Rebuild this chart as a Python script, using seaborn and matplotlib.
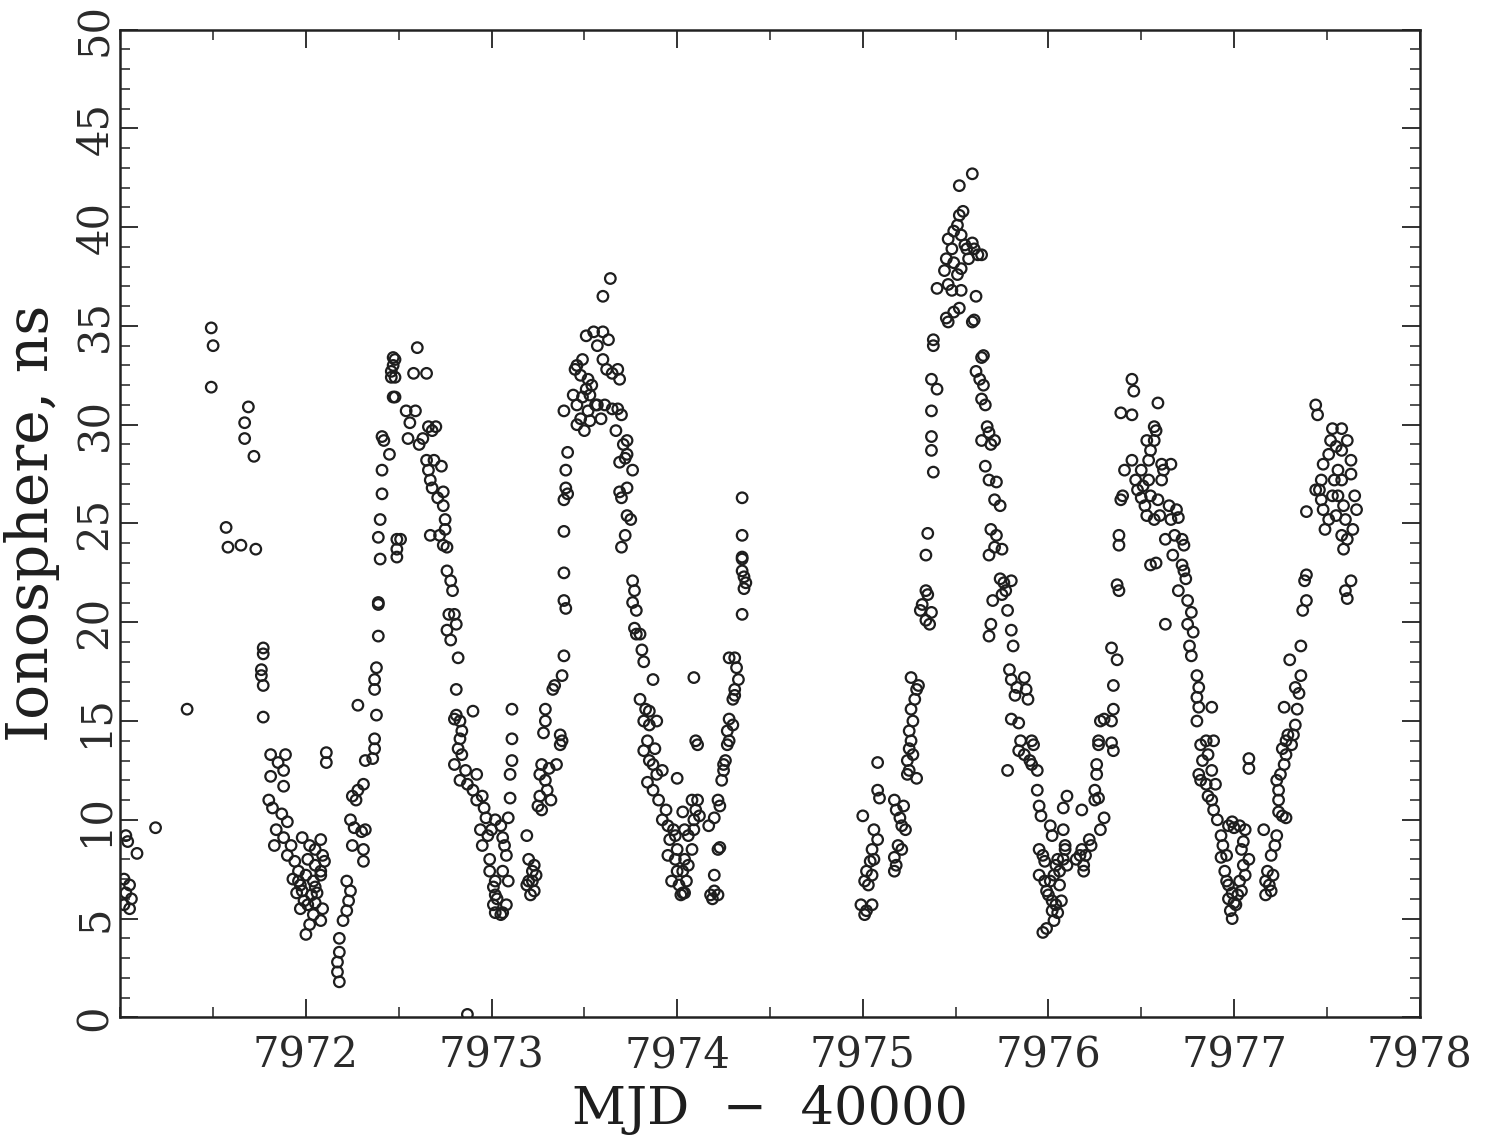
import pandas as pd
import matplotlib.pyplot as plt
import seaborn as sns
from matplotlib.ticker import MultipleLocator

# ionosphere delay readings, (MJD - 40000, ns), grouped by day
day_7971 = [
    (7971.03, 9.2), (7971.04, 8.9), (7971.02, 7.0), (7971.05, 6.7), (7971.03, 6.3),
    (7971.06, 6.0), (7971.02, 5.7), (7971.05, 5.5), (7971.09, 8.3), (7971.19, 9.6),
    (7971.36, 15.6), (7971.49, 34.9), (7971.50, 34.0), (7971.49, 31.9),
    (7971.57, 24.8), (7971.58, 23.8), (7971.65, 23.9), (7971.73, 23.7),
    (7971.69, 30.9), (7971.67, 30.1), (7971.67, 29.3), (7971.72, 28.4),
    (7971.77, 18.7), (7971.77, 18.4), (7971.76, 17.6), (7971.76, 17.3), (7971.77, 16.8),
    (7971.77, 15.2), (7971.81, 13.3), (7971.89, 13.3), (7971.85, 12.9), (7971.88, 12.5),
    (7971.81, 12.2), (7971.88, 11.7), (7971.80, 11.0), (7971.82, 10.6), (7971.87, 10.3),
    (7971.90, 9.9), (7971.84, 9.5), (7971.88, 9.1), (7971.83, 8.7), (7971.92, 8.7),
    (7971.90, 8.2), (7971.94, 7.9), (7971.96, 7.4), (7971.93, 7.0), (7971.97, 6.7),
    (7971.95, 6.3), (7971.99, 5.9), (7971.97, 5.5), (7972.00, 4.2),
]

day_7972 = [
    (7971.98, 9.1), (7972.02, 8.7), (7972.05, 8.5), (7972.08, 9.0), (7972.01, 8.0),
    (7972.05, 7.7), (7972.09, 8.2), (7971.96, 6.9), (7972.00, 7.2), (7972.04, 6.9),
    (7972.08, 7.2), (7971.98, 6.4), (7972.03, 6.2), (7972.06, 6.3), (7972.01, 5.7),
    (7972.05, 5.8), (7972.09, 5.5), (7972.04, 5.2), (7972.08, 4.9), (7972.02, 4.7),
    (7972.08, 7.4), (7972.10, 7.9), (7972.05, 6.6), (7972.11, 13.4), (7972.11, 12.9),
    (7972.18, 1.8), (7972.17, 2.3), (7972.17, 2.8), (7972.18, 3.3), (7972.18, 4.0),
    (7972.20, 4.9), (7972.22, 5.4), (7972.23, 5.9), (7972.24, 6.4), (7972.22, 6.9),
    (7972.25, 8.7), (7972.26, 9.6), (7972.24, 10.0), (7972.27, 11.0), (7972.28, 11.5),
    (7972.25, 11.2), (7972.31, 11.8), (7972.28, 15.8), (7972.32, 13.0), (7972.31, 8.5),
    (7972.31, 7.9), (7972.30, 9.4), (7972.32, 9.5),
    (7972.36, 13.1), (7972.37, 13.6), (7972.37, 14.1), (7972.38, 15.3), (7972.37, 16.6),
    (7972.37, 17.1), (7972.38, 17.7), (7972.39, 19.3), (7972.39, 20.9), (7972.39, 21.0),
    (7972.40, 23.2), (7972.39, 24.3), (7972.40, 25.2), (7972.41, 26.5), (7972.41, 27.7),
    (7972.42, 29.2), (7972.41, 29.4), (7972.45, 28.5),
    (7972.47, 33.4), (7972.48, 33.3), (7972.47, 33.0), (7972.46, 32.7), (7972.48, 32.4),
    (7972.46, 32.4), (7972.48, 31.4), (7972.47, 31.4), (7972.49, 24.2), (7972.49, 23.7),
    (7972.49, 23.3), (7972.51, 24.2),
    (7972.54, 30.7), (7972.55, 29.3), (7972.56, 30.1), (7972.59, 30.7), (7972.60, 33.9),
    (7972.58, 32.6), (7972.65, 32.6), (7972.63, 29.3), (7972.61, 29.0), (7972.65, 28.2),
    (7972.66, 29.9), (7972.68, 29.7), (7972.70, 29.9), (7972.66, 27.7), (7972.67, 27.2),
    (7972.68, 26.8), (7972.71, 26.3), (7972.67, 24.4), (7972.72, 24.4), (7972.69, 28.2),
    (7972.73, 27.9), (7972.74, 26.6), (7972.74, 25.9), (7972.75, 25.2), (7972.75, 24.7),
    (7972.74, 23.9), (7972.76, 23.8), (7972.76, 22.6), (7972.78, 22.1), (7972.79, 21.6),
    (7972.77, 20.4), (7972.80, 20.4), (7972.76, 19.6), (7972.78, 19.1), (7972.81, 19.9),
    (7972.82, 18.2), (7972.81, 16.6), (7972.81, 15.3), (7972.83, 15.0), (7972.80, 15.1),
    (7972.84, 14.5), (7972.83, 14.1), (7972.82, 13.6), (7972.84, 13.3), (7972.80, 12.8),
    (7972.86, 12.5), (7972.83, 12.0), (7972.90, 15.5), (7972.87, 11.8), (7972.90, 11.5),
    (7972.92, 12.3), (7972.95, 11.2), (7972.92, 11.0), (7972.96, 10.6), (7972.97, 10.1),
    (7972.94, 9.5), (7972.98, 9.2), (7972.95, 8.7), (7973.00, 9.5), (7972.99, 8.0),
    (7972.99, 7.4), (7973.02, 6.9), (7973.01, 6.6), (7973.02, 6.2), (7973.01, 5.7),
    (7973.02, 5.3), (7973.05, 5.2), (7972.87, 0.15),
]

day_7973 = [
    (7973.02, 10.0), (7973.05, 9.7), (7973.06, 9.1), (7973.07, 8.7), (7973.08, 8.2),
    (7973.09, 10.1), (7973.10, 11.1), (7973.10, 12.3), (7973.11, 13.0), (7973.11, 14.1),
    (7973.11, 15.6), (7973.06, 7.4), (7973.09, 6.9), (7973.03, 6.0), (7973.06, 5.3),
    (7973.08, 5.7),
    (7973.19, 9.2), (7973.20, 8.0), (7973.22, 7.4), (7973.22, 6.9), (7973.19, 6.7),
    (7973.23, 6.4), (7973.21, 6.2), (7973.24, 7.2), (7973.23, 7.7), (7973.20, 6.9),
    (7973.25, 10.7), (7973.27, 10.5), (7973.26, 11.2), (7973.29, 12.0), (7973.26, 12.3),
    (7973.30, 11.5), (7973.27, 12.8), (7973.31, 12.6), (7973.29, 15.0), (7973.29, 15.6),
    (7973.28, 14.4), (7973.32, 11.0), (7973.33, 16.6), (7973.34, 16.8), (7973.35, 12.8),
    (7973.37, 13.8), (7973.38, 14.0), (7973.37, 14.3), (7973.39, 18.3), (7973.38, 17.3),
    (7973.39, 21.1), (7973.40, 20.7), (7973.39, 22.5), (7973.39, 24.6), (7973.39, 26.2),
    (7973.41, 26.5), (7973.40, 26.8), (7973.40, 27.7), (7973.41, 28.6), (7973.39, 30.7),
    (7973.44, 31.5), (7973.45, 32.8), (7973.46, 33.0), (7973.49, 33.3), (7973.48, 32.5),
    (7973.52, 32.3), (7973.54, 32.0), (7973.51, 31.8), (7973.53, 31.5), (7973.49, 31.4),
    (7973.46, 31.0), (7973.48, 30.3), (7973.52, 30.7), (7973.56, 31.0), (7973.53, 30.2),
    (7973.50, 29.7), (7973.46, 30.0), (7973.55, 34.7), (7973.60, 34.7), (7973.63, 34.3),
    (7973.51, 34.5), (7973.57, 34.0), (7973.60, 33.3), (7973.62, 32.8), (7973.65, 32.6),
    (7973.68, 32.8), (7973.69, 32.3), (7973.60, 36.5), (7973.64, 37.4), (7973.57, 31.0),
    (7973.61, 31.0), (7973.65, 30.8), (7973.59, 30.3), (7973.68, 30.8), (7973.70, 30.5),
    (7973.71, 29.0), (7973.73, 29.2), (7973.67, 29.7), (7973.69, 28.1), (7973.72, 28.3),
    (7973.73, 28.5), (7973.69, 26.6), (7973.70, 26.3), (7973.73, 26.8), (7973.72, 24.4),
    (7973.70, 23.8), (7973.73, 25.4), (7973.75, 25.2), (7973.76, 27.7),
    (7973.76, 22.1), (7973.77, 21.6), (7973.76, 21.0), (7973.78, 20.6), (7973.77, 19.7),
    (7973.80, 19.4), (7973.78, 19.4), (7973.81, 18.6), (7973.82, 18.0), (7973.80, 16.1),
    (7973.83, 15.6), (7973.85, 15.5), (7973.85, 14.8), (7973.82, 15.0), (7973.84, 14.0),
    (7973.82, 13.5), (7973.85, 13.0), (7973.87, 12.8), (7973.88, 13.6), (7973.89, 15.0),
    (7973.87, 17.1), (7973.84, 11.9), (7973.87, 11.5), (7973.89, 12.3), (7973.92, 12.5),
    (7973.90, 11.0), (7973.94, 10.5), (7973.92, 10.0), (7973.95, 9.7), (7973.96, 9.0),
    (7973.98, 9.5), (7973.99, 9.2), (7973.95, 8.2), (7973.99, 8.0), (7974.00, 7.4),
    (7973.97, 6.9), (7974.01, 6.7), (7974.03, 6.3), (7974.04, 8.0), (7974.00, 8.5),
    (7974.00, 12.1), (7974.03, 10.4), (7974.04, 9.5),
]

day_7974 = [
    (7974.02, 6.2), (7974.04, 6.3), (7974.05, 6.9), (7974.03, 7.4), (7974.06, 7.7),
    (7974.08, 8.5), (7974.06, 9.2), (7974.09, 10.0), (7974.10, 10.5), (7974.08, 11.0),
    (7974.09, 17.2), (7974.11, 13.8), (7974.10, 14.0), (7974.11, 11.0), (7974.12, 10.2),
    (7974.09, 9.5),
    (7974.17, 9.7), (7974.20, 10.1), (7974.18, 6.2), (7974.19, 6.0), (7974.20, 6.4),
    (7974.22, 6.2), (7974.20, 7.2), (7974.22, 8.5), (7974.23, 8.6), (7974.23, 10.7),
    (7974.22, 11.0),
    (7974.24, 12.0), (7974.25, 12.5), (7974.25, 12.8), (7974.26, 13.0), (7974.27, 13.8),
    (7974.28, 14.0), (7974.27, 14.5), (7974.30, 14.8), (7974.28, 15.1), (7974.30, 16.1),
    (7974.31, 16.3), (7974.31, 16.6), (7974.32, 17.7), (7974.31, 18.2), (7974.28, 18.2),
    (7974.33, 17.1),
    (7974.35, 26.3), (7974.35, 24.4), (7974.35, 23.2), (7974.35, 22.6), (7974.36, 22.3),
    (7974.37, 22.0), (7974.36, 21.7), (7974.35, 20.4), (7974.35, 23.3),
]

day_7975 = [
    (7975.00, 10.2), (7974.99, 5.7), (7975.02, 5.4), (7975.05, 5.7), (7975.01, 5.2),
    (7975.01, 6.9), (7975.03, 6.7), (7975.02, 7.4), (7975.05, 7.2), (7975.04, 7.9),
    (7975.06, 8.0), (7975.05, 8.5), (7975.08, 9.0), (7975.06, 9.5), (7975.09, 11.1),
    (7975.08, 11.5), (7975.08, 12.9),
    (7975.17, 8.1), (7975.18, 7.7), (7975.19, 8.7), (7975.17, 7.4), (7975.21, 8.5),
    (7975.17, 11.0), (7975.18, 10.5), (7975.20, 10.1), (7975.21, 9.7), (7975.22, 10.7),
    (7975.23, 9.5), (7975.24, 12.3), (7975.25, 12.5), (7975.24, 13.0), (7975.25, 13.6),
    (7975.26, 14.0), (7975.25, 14.5), (7975.27, 15.0), (7975.26, 15.6), (7975.28, 16.1),
    (7975.29, 16.6), (7975.26, 17.2), (7975.30, 16.8), (7975.27, 13.3), (7975.29, 12.1),
    (7975.31, 20.6), (7975.32, 20.9), (7975.34, 20.1), (7975.35, 21.4), (7975.34, 21.6),
    (7975.36, 19.9), (7975.37, 20.5), (7975.34, 23.4), (7975.35, 24.5), (7975.38, 27.6),
    (7975.37, 28.7), (7975.37, 29.4), (7975.37, 30.7), (7975.37, 32.3), (7975.38, 34.0),
    (7975.38, 34.3), (7975.40, 31.8),
    (7975.40, 36.9), (7975.45, 35.4), (7975.46, 35.2), (7975.46, 37.1), (7975.44, 37.8),
    (7975.45, 38.4), (7975.48, 38.9), (7975.46, 39.4), (7975.49, 39.8), (7975.51, 40.1),
    (7975.52, 40.6), (7975.54, 40.8), (7975.52, 42.1), (7975.59, 42.7), (7975.53, 39.6),
    (7975.55, 39.1), (7975.49, 38.2), (7975.51, 37.6), (7975.48, 36.8), (7975.53, 37.9),
    (7975.56, 38.9), (7975.57, 38.4), (7975.59, 39.2), (7975.60, 38.9), (7975.62, 38.6),
    (7975.52, 35.9), (7975.53, 36.8), (7975.49, 35.7), (7975.59, 35.2), (7975.60, 35.3),
    (7975.61, 36.5), (7975.64, 38.6),
    (7975.64, 33.4), (7975.65, 33.5), (7975.61, 32.7), (7975.63, 32.3), (7975.65, 32.0),
    (7975.64, 31.3), (7975.66, 31.0), (7975.67, 29.9), (7975.68, 29.6), (7975.64, 29.2),
    (7975.69, 29.0), (7975.71, 29.2), (7975.66, 27.9), (7975.68, 27.2), (7975.72, 27.1),
    (7975.71, 26.2), (7975.74, 25.9), (7975.69, 24.7), (7975.72, 24.4), (7975.71, 23.8),
    (7975.68, 23.4), (7975.75, 23.7), (7975.70, 21.1), (7975.69, 19.9), (7975.68, 19.3),
    (7975.74, 22.2), (7975.76, 22.0), (7975.75, 21.4), (7975.77, 21.6), (7975.80, 22.1),
    (7975.78, 20.6), (7975.80, 19.6), (7975.81, 18.8), (7975.79, 17.6), (7975.80, 17.1),
    (7975.83, 16.7), (7975.82, 16.3), (7975.80, 15.1), (7975.84, 14.9), (7975.87, 17.2),
    (7975.88, 16.6), (7975.89, 16.1), (7975.85, 14.0), (7975.84, 13.5), (7975.87, 13.3),
    (7975.91, 14.0), (7975.92, 13.8), (7975.91, 12.8), (7975.94, 12.5), (7975.78, 12.5),
    (7975.90, 13.0),
]

day_7976 = [
    (7975.94, 11.5), (7975.95, 10.7), (7975.96, 10.2), (7975.95, 8.5), (7975.97, 8.2),
    (7975.98, 7.9), (7975.95, 7.2), (7975.98, 6.9), (7975.99, 6.4), (7975.97, 4.3),
    (7975.99, 4.5), (7976.00, 6.2), (7976.02, 5.9), (7976.02, 5.4), (7976.01, 6.9),
    (7976.03, 7.2), (7976.04, 7.7), (7976.01, 9.7), (7976.02, 9.2), (7976.04, 5.7),
    (7976.03, 4.9), (7976.05, 5.3), (7976.07, 5.9), (7976.06, 6.7), (7976.06, 7.4),
    (7976.08, 8.0), (7976.09, 8.7), (7976.08, 9.5), (7976.08, 10.6), (7976.10, 11.2),
    (7976.09, 8.5), (7976.10, 7.7), (7976.05, 8.0),
    (7976.15, 8.0), (7976.17, 8.2), (7976.18, 8.5), (7976.19, 7.7), (7976.20, 8.2),
    (7976.22, 9.0), (7976.19, 7.4), (7976.18, 10.5), (7976.23, 8.7), (7976.25, 11.5),
    (7976.26, 12.3), (7976.26, 12.8), (7976.27, 13.8), (7976.27, 14.0), (7976.28, 15.0),
    (7976.30, 15.1), (7976.28, 9.5), (7976.30, 10.1), (7976.25, 11.0), (7976.27, 11.1),
    (7976.34, 13.9), (7976.35, 13.5), (7976.34, 15.0), (7976.35, 15.6), (7976.35, 16.8),
    (7976.37, 18.1), (7976.34, 18.7), (7976.38, 21.6), (7976.37, 21.9), (7976.38, 23.9),
    (7976.38, 24.4), (7976.39, 26.2), (7976.40, 26.4), (7976.41, 27.7), (7976.39, 30.6),
    (7976.45, 30.5),
    (7976.45, 32.3), (7976.46, 31.7), (7976.45, 28.2), (7976.47, 27.2), (7976.50, 27.7),
    (7976.48, 26.7), (7976.50, 26.3), (7976.52, 25.9), (7976.53, 25.4), (7976.51, 26.9),
    (7976.54, 27.2), (7976.55, 26.4), (7976.54, 28.2), (7976.55, 28.7), (7976.53, 29.2),
    (7976.57, 29.2), (7976.57, 29.9), (7976.58, 29.7), (7976.59, 31.1), (7976.61, 28.0),
    (7976.61, 27.2), (7976.59, 26.2), (7976.57, 25.2), (7976.60, 25.4), (7976.62, 27.7),
    (7976.66, 28.0), (7976.58, 23.0), (7976.55, 22.9), (7976.65, 25.9), (7976.66, 25.2),
    (7976.68, 24.4), (7976.69, 25.7), (7976.70, 25.3), (7976.72, 24.2), (7976.73, 23.9),
    (7976.63, 19.9), (7976.63, 24.2), (7976.67, 23.4), (7976.72, 22.9), (7976.73, 22.6),
    (7976.74, 22.2), (7976.70, 21.6),
    (7976.75, 21.1), (7976.77, 20.5), (7976.75, 19.9), (7976.78, 19.5), (7976.76, 18.8),
    (7976.77, 18.3), (7976.80, 17.3), (7976.81, 16.7), (7976.80, 16.2), (7976.81, 15.7),
    (7976.88, 15.7), (7976.80, 15.0), (7976.82, 13.8), (7976.85, 14.0), (7976.83, 13.0),
    (7976.86, 13.3), (7976.89, 14.0), (7976.88, 12.5), (7976.81, 12.3), (7976.82, 12.0),
    (7976.85, 11.8), (7976.86, 11.2), (7976.88, 11.0), (7976.89, 10.5), (7976.90, 11.8),
    (7976.91, 10.0), (7976.93, 9.2), (7976.94, 8.7), (7976.96, 8.2), (7976.93, 8.1),
    (7976.97, 9.7),
]

day_7977 = [
    (7976.95, 7.4), (7976.96, 6.9), (7976.97, 6.7), (7976.99, 6.3), (7976.97, 6.0),
    (7977.00, 5.8), (7976.98, 5.4), (7977.01, 5.7), (7976.99, 5.0), (7977.02, 6.2),
    (7977.04, 6.4), (7977.03, 6.9), (7977.05, 7.7), (7977.04, 8.5), (7977.05, 8.9),
    (7977.06, 9.5), (7977.03, 9.7), (7977.00, 9.6), (7977.08, 13.1), (7977.08, 12.6),
    (7977.06, 7.2), (7977.08, 8.0), (7976.99, 9.9),
    (7977.16, 9.5), (7977.18, 7.4), (7977.17, 6.9), (7977.19, 6.7), (7977.20, 6.4),
    (7977.21, 7.2), (7977.17, 6.2), (7977.20, 8.2), (7977.22, 8.7), (7977.23, 9.2),
    (7977.24, 11.0), (7977.24, 11.5), (7977.23, 12.0), (7977.25, 12.3), (7977.24, 10.4),
    (7977.26, 10.2), (7977.27, 12.8), (7977.28, 13.3), (7977.26, 13.6), (7977.28, 14.0),
    (7977.29, 14.3), (7977.30, 18.1), (7977.31, 13.8), (7977.32, 14.3), (7977.33, 14.8),
    (7977.34, 15.6), (7977.35, 16.4), (7977.36, 17.3), (7977.33, 16.7), (7977.28, 10.1),
    (7977.27, 15.7),
    (7977.36, 18.8), (7977.37, 20.6), (7977.39, 21.1), (7977.38, 22.1), (7977.39, 22.4),
    (7977.39, 25.6), (7977.44, 31.0), (7977.45, 30.5), (7977.47, 27.2), (7977.46, 26.7),
    (7977.47, 26.2), (7977.48, 25.7), (7977.49, 24.7), (7977.51, 25.2), (7977.48, 28.0),
    (7977.51, 28.5), (7977.52, 29.2), (7977.53, 29.8), (7977.55, 28.9), (7977.56, 27.7),
    (7977.58, 27.2), (7977.56, 26.4), (7977.59, 25.9), (7977.55, 25.4), (7977.60, 25.2),
    (7977.58, 24.4), (7977.59, 23.7), (7977.61, 24.2), (7977.63, 22.1), (7977.60, 21.6),
    (7977.58, 29.8), (7977.61, 29.2), (7977.63, 28.2), (7977.63, 27.5), (7977.65, 26.4),
    (7977.66, 25.7), (7977.58, 28.7), (7977.54, 27.2), (7977.53, 26.4), (7977.64, 24.7),
    (7977.61, 21.2), (7977.44, 26.7),
]

x_ticks = [7972, 7973, 7974, 7975, 7976, 7977, 7978]
y_ticks = [0, 5, 10, 15, 20, 25, 30, 35, 40, 45, 50]

days = [day_7971, day_7972, day_7973, day_7974, day_7975, day_7976, day_7977]
df = pd.DataFrame([p for d in days for p in d], columns=["mjd", "iono"])

sns.set_theme(style="ticks")
plt.rcParams["font.family"] = ["DejaVu Serif"]

fig = plt.figure(figsize=(14.85, 11.38), dpi=100)
ax = fig.add_axes([0.081, 0.106, 0.875, 0.868])

sns.scatterplot(
    ax=ax, data=df, x="mjd", y="iono",
    marker="o", s=58, facecolors="none", edgecolor="#1e1e1e", linewidth=1.6,
    legend=False,
)

ax.set_xlim(7971, 7978)
ax.set_ylim(0, 50)
ax.set_xticks(x_ticks)
ax.set_xticklabels([str(t) for t in x_ticks])
ax.set_yticks(y_ticks)
ax.set_yticklabels([str(t) for t in y_ticks])
ax.xaxis.set_minor_locator(MultipleLocator(0.5))
ax.yaxis.set_minor_locator(MultipleLocator(1))

ax.tick_params(which="both", direction="in", top=True, right=True, color="#222222")
ax.tick_params(which="major", length=13, width=1.3, labelsize=30, labelcolor="#2a2a2a")
ax.tick_params(which="minor", length=7, width=1.1)
ax.tick_params(axis="x", pad=12)
ax.tick_params(axis="y", pad=3)
for lbl in ax.get_yticklabels():
    lbl.set_rotation(90)
    lbl.set_va("center")

for sp in ax.spines.values():
    sp.set_linewidth(1.8)
    sp.set_color("#222222")

ax.set_xlabel("MJD  \u2212  40000", fontsize=38, labelpad=6, color="#1e1e1e")
ax.set_ylabel("Ionosphere, ns", fontsize=42, labelpad=10, color="#1e1e1e")

plt.savefig("out.png", dpi=100)
